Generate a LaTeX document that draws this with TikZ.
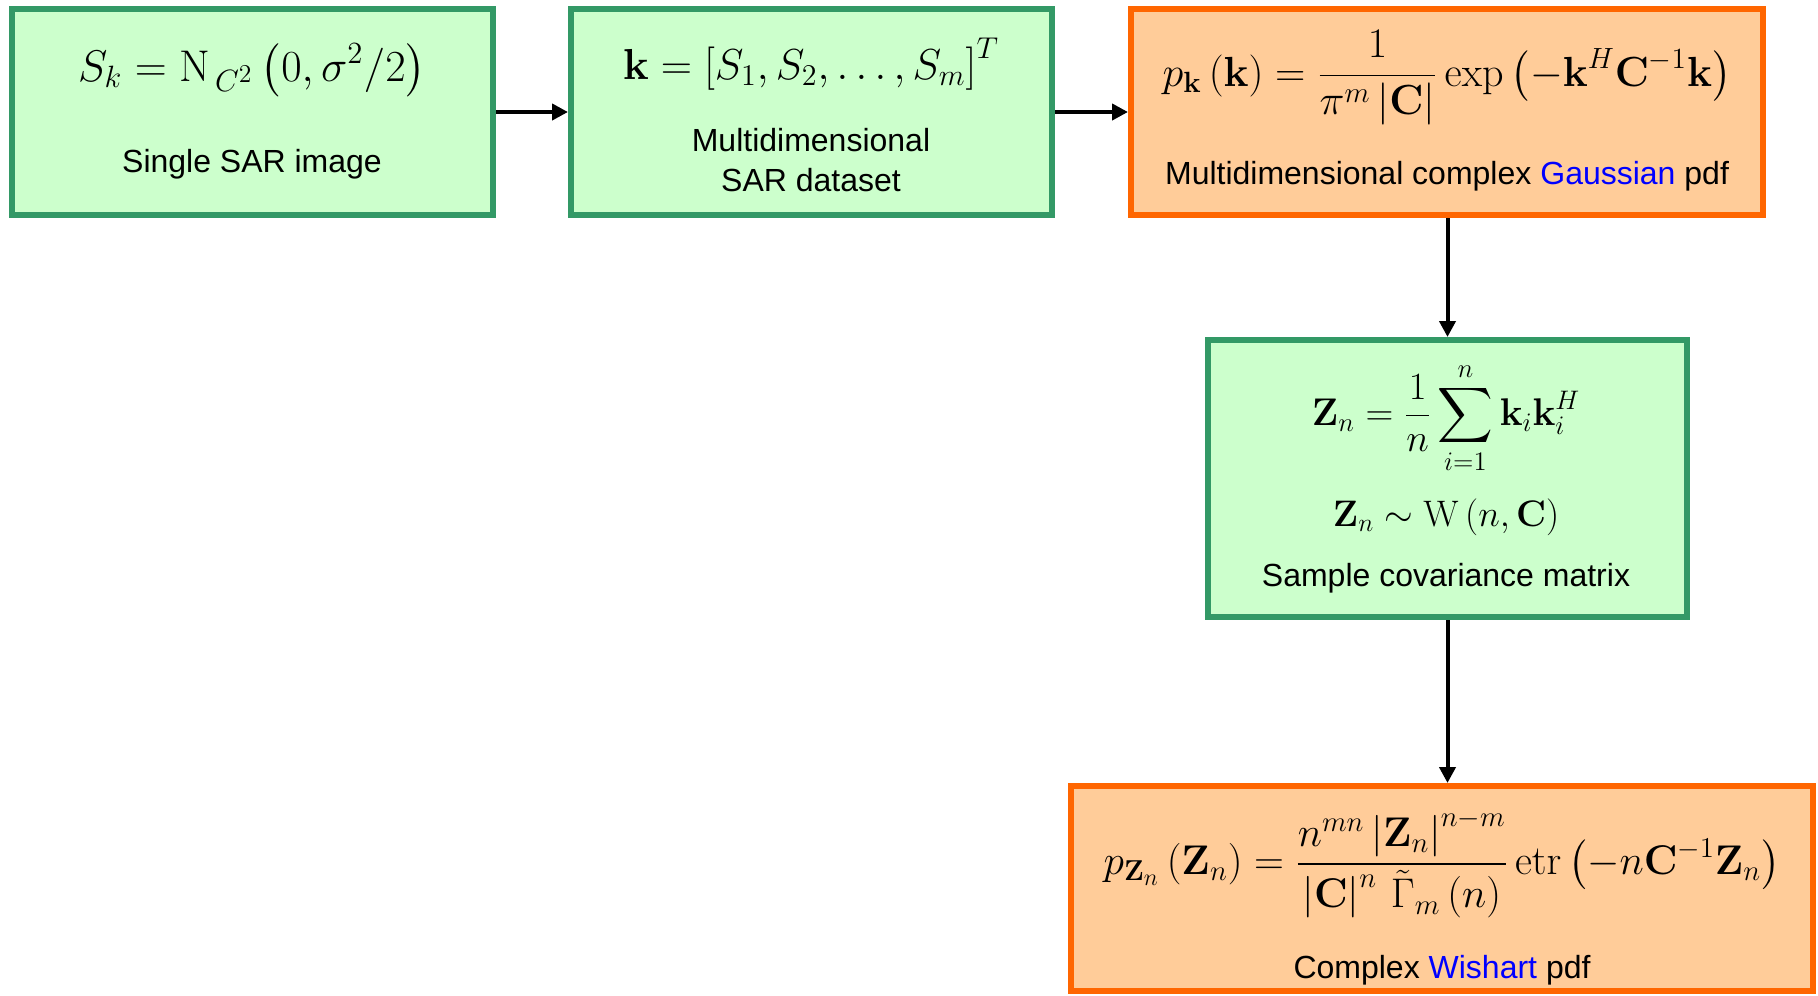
\documentclass[tikz,border=0pt]{standalone}
\usepackage{amsmath}
\usepackage{graphicx}
\usepackage[no-math]{fontspec}
\setmainfont{Liberation Sans}
\usetikzlibrary{arrows.meta}
\definecolor{gfill}{HTML}{CCFFCC}
\definecolor{gline}{HTML}{339966}
\definecolor{ofill}{HTML}{FFCC99}
\definecolor{oline}{HTML}{FF6600}
\definecolor{kblue}{HTML}{0000FF}
\newcommand{\eqbox}[2]{\scalebox{#1}{\fontsize{20.74}{25}\selectfont$\displaystyle #2$}}
\begin{document}
\begin{tikzpicture}[x=1pt,y=-1pt,
  gbox/.style={draw=gline, fill=gfill, line width=6pt, inner sep=0pt},
  obox/.style={draw=oline, fill=ofill, line width=6pt, inner sep=0pt},
  lbl/.style={font=\fontsize{32}{38}\selectfont, inner sep=0pt},
  eq/.style={inner sep=0pt},
  conn/.style={line width=4pt, -{Triangle[width=16pt,length=16pt]}}]
\useasboundingbox (0,0) rectangle (1818,996);
% boxes
\node[gbox, minimum width=481pt, minimum height=206pt] (b1) at (252.5,112) {};
\node[gbox, minimum width=481pt, minimum height=206pt] (b2) at (811.5,112) {};
\node[obox, minimum width=632pt, minimum height=206pt] (b3) at (1447,112) {};
\node[gbox, minimum width=479pt, minimum height=277pt] (b4) at (1447.5,478.5) {};
\node[obox, minimum width=742pt, minimum height=205pt] (b5) at (1442,888.5) {};
% box 1
\node[eq] (e1) at (252,70) {\eqbox{2.14}{S_k = \mathrm{N}_{\,C^{2}}\left(0,\sigma^{2}/2\right)}};
\node[lbl] (t1) at (252,164) {Single SAR image};
% box 2
\node[eq] (e2) at (811,64) {\eqbox{2.09}{\mathbf{k} = \left[S_1, S_2, \ldots, S_m\right]^{T}}};
\node[lbl] (t2a) at (811,140) {Multidimensional};
\node[lbl] (t2b) at (811,180) {SAR dataset};
% box 3
\node[eq] (e3) at (1447,78) {\eqbox{2.03}{p_{\mathbf{k}}\left(\mathbf{k}\right) = \frac{1}{\pi^{m}\left|\mathbf{C}\right|}\exp\left(-\mathbf{k}^{H}\mathbf{C}^{-1}\mathbf{k}\right)}};
\node[lbl] (t3) at (1447,176) {Multidimensional complex \textcolor{kblue}{Gaussian} pdf};
% box 4
\node[eq] (e4a) at (1446,418) {\eqbox{1.86}{\mathbf{Z}_n = \frac{1}{n}\sum_{i=1}^{n}\mathbf{k}_i\mathbf{k}_i^{H}}};
\node[eq] (e4b) at (1446,517) {\eqbox{1.78}{\mathbf{Z}_n \sim \mathrm{W}\left(n,\mathbf{C}\right)}};
\node[lbl] (t4) at (1446,578) {Sample covariance matrix};
% box 5
\node[eq] (e5) at (1442,864) {\eqbox{2.0}{p_{\mathbf{Z}_n}\left(\mathbf{Z}_n\right) = \frac{n^{mn}\left|\mathbf{Z}_n\right|^{n-m}}{\left|\mathbf{C}\right|^{n}\,\tilde{\Gamma}_{m}\left(n\right)}\operatorname{etr}\left(-n\mathbf{C}^{-1}\mathbf{Z}_n\right)}};
\node[lbl] (t5) at (1442,970) {Complex \textcolor{kblue}{Wishart} pdf};
% connectors
\draw[conn] (b1.east) -- (b2.west);
\draw[conn] (b2.east) -- (b3.west);
\draw[conn] (b3.south -| b4.north) -- (b4.north);
\draw[conn] (b4.south) -- (b4.south |- b5.north);
\end{tikzpicture}
\end{document}
